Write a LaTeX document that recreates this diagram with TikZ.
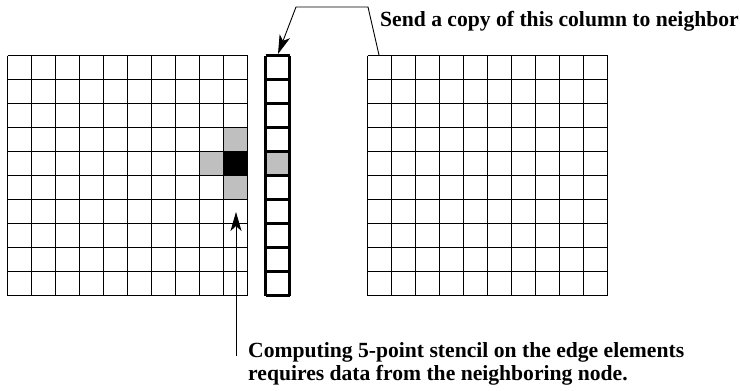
\documentclass[tikz,border=0pt]{standalone}
\usepackage{fontspec}
\setmainfont{Liberation Serif}
\usetikzlibrary{arrows.meta}
\begin{document}
\begin{tikzpicture}[x=1bp,y=-1bp,
  gridline/.style={line width=1.4bp},
  colline/.style={line width=2.6bp},
  halo/.style={fill=black!25},
  core/.style={fill=black},
  callout/.style={line width=0.9bp, -{Stealth[length=19bp,width=11bp,inset=5bp]}},
  caption/.style={font=\bfseries\fontsize{21.7}{23}\selectfont, inner sep=0pt, anchor=base west, align=left}]
\useasboundingbox (0,0) rectangle (740,390);

% left sub-domain with the 5-point stencil at its edge
\begin{scope}[shift={(7.5,55.5)}, x=24bp, y=-24bp]
  \fill[halo] (9,3) rectangle (10,4);
  \fill[halo] (8,4) rectangle (9,5);
  \fill[halo] (9,5) rectangle (10,6);
  \fill[core] (9,4) rectangle (10,5);
  \foreach \i in {0,...,10} {
    \draw[gridline] (\i,0) -- (\i,10);
    \draw[gridline] (0,\i) -- (10,\i);
  }
\end{scope}

% ghost column received from the neighbor
\begin{scope}[shift={(265.5,55.5)}, x=24bp, y=-24bp]
  \fill[halo] (0,4) rectangle (1,5);
  \foreach \i in {0,...,10} \draw[colline] (0,\i) -- (1,\i);
  \draw[colline] (0,0) -- (0,10) (1,0) -- (1,10);
\end{scope}

% right sub-domain
\begin{scope}[shift={(367.5,55.5)}, x=24bp, y=-24bp]
  \foreach \i in {0,...,10} {
    \draw[gridline] (\i,0) -- (\i,10);
    \draw[gridline] (0,\i) -- (10,\i);
  }
\end{scope}

% callouts
\coordinate (sendfrom) at (379,55);
\coordinate (ghosttop) at (278,54);
\coordinate (bendR) at (368,7);
\coordinate (bendL) at (296,7);
\draw[callout] (sendfrom) -- (bendR) -- (bendL) -- (ghosttop);

\coordinate (foot) at (236,356);
\coordinate (stencil) at (236,212);
\draw[callout] (foot) -- (stencil);

\node[caption] (sendtxt) at (380,26) {Send a copy of this column to neighbor};
% anchored on the baseline of the second line
\node[caption] (stenciltxt) at (248,380) {Computing 5-point stencil on the edge elements\\requires data from the neighboring node.};
\end{tikzpicture}
\end{document}
